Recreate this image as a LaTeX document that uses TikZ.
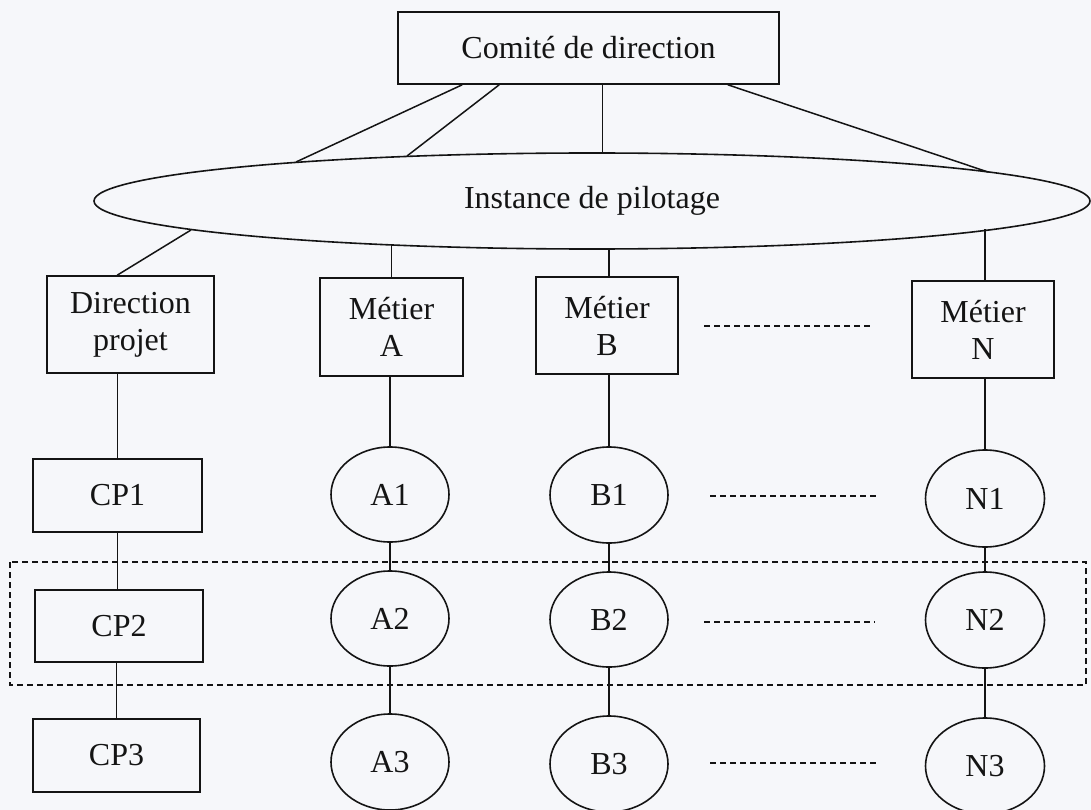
\documentclass[tikz,border=0pt]{standalone}
\usepackage{fontspec}
\setmainfont{Liberation Serif}
\usetikzlibrary{shapes.geometric,calc}
\definecolor{bg}{RGB}{246,247,250}
\definecolor{ink}{RGB}{20,20,20}
\tikzset{
  base/.style={draw=ink, line width=1.6pt, inner sep=0pt, text=ink,
    font=\fontsize{32}{37}\selectfont, align=center},
  boxnode/.style={base, rectangle},
  ovalnode/.style={base, ellipse},
  link/.style={draw=ink, line width=1.5pt},
  dotline/.style={draw=ink, line width=1.6pt, dash pattern=on 6pt off 4pt},
}
\begin{document}
\begin{tikzpicture}[x=1pt,y=-1pt]
\fill[bg] (0,0) rectangle (1091,810);
\useasboundingbox (0,0) rectangle (1091,810);

% top
\node[boxnode, minimum width=381pt, minimum height=72pt] (comite) at (588.5,48) {Comité de direction};
\node[ovalnode, minimum width=996pt, minimum height=96pt] (instance) at (592,201) {Instance de pilotage};

% level 2
\node[boxnode, minimum width=167pt, minimum height=97pt] (dp) at (130.5,324.5) {Direction\\projet};
\node[boxnode, minimum width=143pt, minimum height=98pt] (ma) at (391.5,327) {Métier\\A};
\node[boxnode, minimum width=142pt, minimum height=97pt] (mb) at (607,325.5) {Métier\\B};
\node[boxnode, minimum width=142pt, minimum height=97pt] (mn) at (983,329.5) {Métier\\N};

% CP column
\node[boxnode, minimum width=169pt, minimum height=73pt] (cp1) at (117.5,495.5) {CP1};
\node[boxnode, minimum width=168pt, minimum height=72pt] (cp2) at (119,626) {CP2};
\node[boxnode, minimum width=167pt, minimum height=73pt] (cp3) at (116.5,755.5) {CP3};

% ovals
\node[ovalnode, minimum width=118pt, minimum height=95pt] (a1) at (390,494.5) {A1};
\node[ovalnode, minimum width=118pt, minimum height=95pt] (a2) at (390,618.5) {A2};
\node[ovalnode, minimum width=118pt, minimum height=96pt] (a3) at (390,762) {A3};
\node[ovalnode, minimum width=118pt, minimum height=96pt] (b1) at (609,495) {B1};
\node[ovalnode, minimum width=118pt, minimum height=95pt] (b2) at (609,619.5) {B2};
\node[ovalnode, minimum width=118pt, minimum height=96pt] (b3) at (609,764) {B3};
\node[ovalnode, minimum width=119pt, minimum height=97pt] (n1) at (985,498.5) {N1};
\node[ovalnode, minimum width=119pt, minimum height=96pt] (n2) at (985,620) {N2};
\node[ovalnode, minimum width=119pt, minimum height=96pt] (n3) at (985,766) {N3};

% comite -> instance
\draw[link] ([xshift=65pt]comite.south west) -- ($(instance.center)+(-296,-39)$);
\draw[link] ([xshift=102pt]comite.south west) -- ($(instance.center)+(-185,-45)$);
\draw[link] (instance.78) -- (instance.78 |- comite.south);
\draw[link] ([xshift=-52pt]comite.south east) -- ($(instance.center)+(396,-29)$);

% instance -> level 2
\draw[link] ($(instance.center)+(-401,29)$) -- ([xshift=71pt]dp.north west);
\draw[link] (ma.north) -- (ma.north |- instance.192.5);
\draw[link] (b1.north |- mb.north) -- (b1.north |- instance.-70);
\draw[link] (n1.north |- mn.north) -- (n1.north |- instance.-4.3);

% columns
\draw[link] (cp1.north) -- (cp1.north |- dp.south);
\draw[link] (cp1.south) -- (cp1.south |- cp2.north);
\draw[link] (cp3.north) -- (cp3.north |- cp2.south);
\draw[link] (a1.north) -- (a1.north |- ma.south);
\draw[link] (a1.south) -- (a2.north);
\draw[link] (a2.south) -- (a3.north);
\draw[link] (b1.north) -- (b1.north |- mb.south);
\draw[link] (b1.south) -- (b2.north);
\draw[link] (b2.south) -- (b3.north);
\draw[link] (n1.north) -- (n1.north |- mn.south);
\draw[link] (n1.south) -- (n2.north);
\draw[link] (n2.south) -- (n3.north);

% dashed fillers
\coordinate (d1a) at (704,326); \coordinate (d1b) at (873,326);
\coordinate (d2a) at (710,496); \coordinate (d2b) at (877,496);
\coordinate (d3a) at (704,622); \coordinate (d3b) at (875,622);
\coordinate (d4a) at (710,763); \coordinate (d4b) at (878,763);
\draw[dotline] (d1a) -- (d1b);
\draw[dotline] (d2a) -- (d2b);
\draw[dotline] (d3a) -- (d3b);
\draw[dotline] (d4a) -- (d4b);

% dashed frame
\draw[dotline, line width=1.4pt] (10,562) rectangle (1086,685);
\end{tikzpicture}
\end{document}
